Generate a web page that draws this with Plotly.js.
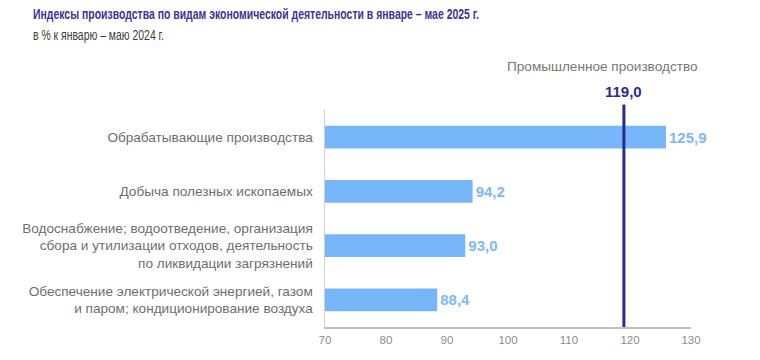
<!DOCTYPE html>
<html><head><meta charset="utf-8">
<script src="https://cdn.plot.ly/plotly-3.0.1.min.js"></script>
<style>html,body{margin:0;padding:0;background:#fff}#c{width:760px;height:360px}</style>
</head><body><div id="c"></div>
<script>
const categories = [
  "Обрабатывающие производства",
  "Добыча полезных ископаемых",
  "Водоснабжение; водоотведение, организация<br>сбора и утилизации отходов, деятельность<br>по ликвидации загрязнений",
  "Обеспечение электрической энергией, газом<br>и паром; кондиционирование воздуха"
];
const values = [125.9, 94.2, 93.0, 88.4];
const industryTotal = 119.0;
const industryLabel = "Промышленное производство";
const xTicks = [70, 80, 90, 100, 110, 120, 130];

const fmt = v => v.toFixed(1).replace('.', ',');
const font = "Liberation Sans, Arial, sans-serif";
const catsRev = categories.slice().reverse();
const valsRev = values.slice().reverse();

const trace = {
  type: 'bar', orientation: 'h',
  y: catsRev, x: valsRev,
  base: 0,
  marker: {color: '#78B6FA'},
  text: valsRev.map(fmt),
  textposition: 'outside',
  cliponaxis: false,
  textfont: {family: font, size: 15, color: '#7DB9F7', weight: 'bold'},
  hoverinfo: 'none'
};

const layout = {
  width: 760, height: 360,
  margin: {l: 325, r: 69, t: 110, b: 33},
  paper_bgcolor: '#fff', plot_bgcolor: '#fff',
  showlegend: false,
  bargap: 0.58,
  font: {family: font},
  xaxis: {
    range: [70, 130], tickvals: xTicks, ticktext: xTicks.map(String),
    showgrid: false, zeroline: false,
    showline: true, linecolor: '#BFBFBF', linewidth: 1.5,
    ticks: '', tickfont: {family: font, size: 11.5, color: '#8C8C8C'},
    ticklabelstandoff: 2
  },
  yaxis: {
    showgrid: false, zeroline: false,
    showline: true, linecolor: '#D0D0D0', linewidth: 1.5,
    ticks: '', tickfont: {family: font, size: 13.6, color: '#6E6E6E'},
    ticklabelstandoff: 8
  },
  shapes: [{
    type: 'line', xref: 'x', yref: 'paper',
    x0: industryTotal, x1: industryTotal, y0: 0, y1: 1.025,
    line: {color: '#2E2A8E', width: 3}
  }],
  annotations: [
    {xref: 'paper', yref: 'paper', x: -294/366, y: 1 + 96/217, xanchor: 'left', yanchor: 'middle',
     text: '<b>Индексы производства по видам экономической деятельности в январе – мае 2025 г.</b>',
     showarrow: false, font: {family: font, size: 14, color: '#3B3598'}},
    {xref: 'paper', yref: 'paper', x: -294/366, y: 1 + 75/217, xanchor: 'left', yanchor: 'middle',
     text: 'в % к январю – маю 2024 г.',
     showarrow: false, font: {family: font, size: 14, color: '#404040'}},
    {xref: 'x', yref: 'paper', x: industryTotal, y: 1 + 18/217, xanchor: 'center', yanchor: 'middle',
     text: '<b>' + fmt(industryTotal) + '</b>', showarrow: false,
     font: {family: font, size: 15, color: '#2E2A8E'}},
    {xref: 'x', yref: 'paper', x: industryTotal, xshift: -21, y: 1 + 44/217, xanchor: 'center', yanchor: 'middle',
     text: industryLabel, showarrow: false,
     font: {family: font, size: 13.6, color: '#777777'}}
  ]
};

Plotly.newPlot('c', [trace], layout, {staticPlot: true, displayModeBar: false}).then(gd => {
  // condensed look of the title lines (reference uses a narrow face)
  const widths = [446, 131];
  const anns = gd.querySelectorAll('.annotation');
  widths.forEach((w, i) => {
    const t = anns[i] && anns[i].querySelector('text.annotation-text');
    if (!t) return;
    const before = t.getBBox();
    t.setAttribute('textLength', w);
    t.setAttribute('lengthAdjust', 'spacingAndGlyphs');
    const after = t.getBBox();
    const x = parseFloat(t.getAttribute('x')) || 0;
    t.setAttribute('x', x - (after.x - before.x));
  });
});
</script>
</body></html>
